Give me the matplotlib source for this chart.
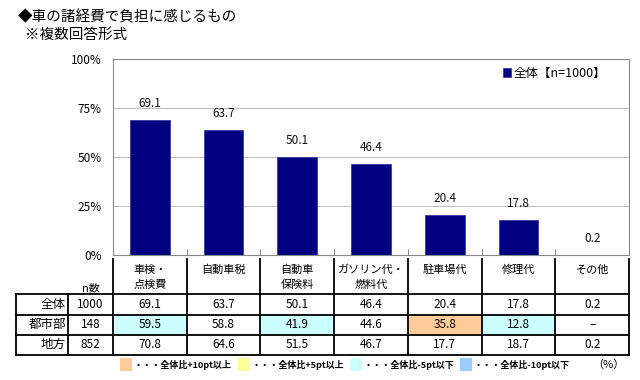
import matplotlib
matplotlib.use("Agg")
import matplotlib.pyplot as plt
from matplotlib.patches import Rectangle
from matplotlib.lines import Line2D

plt.rcParams['font.family'] = ['Noto Sans CJK JP', 'DejaVu Sans']

# ---- data ----
categories = ['車検・\n点検費', '自動車税', '自動車\n保険料', 'ガソリン代・\n燃料代', '駐車場代', '修理代', 'その他']
total = [69.1, 63.7, 50.1, 46.4, 20.4, 17.8, 0.2]
urban = [59.5, 58.8, 41.9, 44.6, 35.8, 12.8, None]
rural = [70.8, 64.6, 51.5, 46.7, 17.7, 18.7, 0.2]
groups = ['全体', '都市部', '地方']
n_counts = [1000, 148, 852]
yticks = [0, 25, 50, 75, 100]
legend_label = '全体【n=1000】'
key_labels = ['・・・全体比+10pt以上', '・・・全体比+5pt以上', '・・・全体比-5pt以下', '・・・全体比-10pt以下']
key_colors = ['#FFCC99', '#FFFF99', '#CCFFFF', '#99CCFF']

NAVY = '#000080'
W, H = 640, 380
fig = plt.figure(figsize=(6.4, 3.8), dpi=100)

# plot area in pixels
L, R, T, B = 113, 629, 59, 255
ax = fig.add_axes([L / W, (H - B) / H, (R - L) / W, (B - T) / H])
x = list(range(len(categories)))
bars = ax.bar(x, total, width=0.54, color=NAVY, edgecolor='#3a3aa0', linewidth=0.6, zorder=3)
for xi, v in zip(x, total):
    ax.annotate(f'{v:.1f}', (xi, v), xytext=(0, 7), textcoords='offset points',
                ha='center', va='bottom', fontsize=8.5, color='#111111')
ax.set_xlim(-0.5, len(categories) - 0.5)
ax.set_ylim(0, 100)
ax.set_yticks(yticks)
ax.set_yticklabels([f'{t}%' for t in yticks], fontsize=8.5)
ax.tick_params(axis='y', length=0, pad=8)
ax.set_xticks([i - 0.5 for i in range(1, len(categories))])
ax.set_xticklabels([])
ax.tick_params(axis='x', direction='in', length=4, color='#888888')
ax.grid(axis='y', color='#b0b0b0', linewidth=0.6, zorder=0)
for s in ax.spines.values():
    s.set_color('#888888')
    s.set_linewidth(0.8)
ax.legend([bars], [legend_label], loc='upper right', bbox_to_anchor=(0.965, 0.985),
          frameon=False, fontsize=9, handlelength=0.65, handleheight=0.65,
          handletextpad=0.2, borderaxespad=0)

# titles
fig.text(18 / W, 1 - 17 / H, '◆車の諸経費で負担に感じるもの', fontsize=10.5, va='center', ha='left')
fig.text(25 / W, 1 - 35 / H, '※複数回答形式', fontsize=10.5, va='center', ha='left')

# ---- table overlay (pixel coordinates) ----
tax = fig.add_axes([0, 0, 1, 1])
tax.set_xlim(0, W)
tax.set_ylim(H, 0)
tax.axis('off')

ncol = len(categories)
cw = (R - L) / ncol
col_edges = [L + k * cw for k in range(ncol + 1)]
col_centers = [L + (k + 0.5) * cw for k in range(ncol)]
row_edges = [294, 314.5, 334.5, 355]
row_centers = [(row_edges[i] + row_edges[i + 1]) / 2 for i in range(3)]
TL = 16      # table left
NL = 68      # n column left
lw = 1.3


def diff_color(v, base):
    if v is None:
        return None
    d = v - base
    if d >= 10:
        return key_colors[0]
    if d >= 5:
        return key_colors[1]
    if d <= -10:
        return key_colors[3]
    if d <= -5:
        return key_colors[2]
    return None


rows = [total, urban, rural]
for r, vals in enumerate(rows):
    for c, v in enumerate(vals):
        col = diff_color(v, total[c]) if r > 0 else None
        if col:
            tax.add_patch(Rectangle((col_edges[c], row_edges[r]), cw, row_edges[r + 1] - row_edges[r],
                                    facecolor=col, edgecolor='none', zorder=1))
        txt = '–' if v is None else f'{v:.1f}'
        tax.text(col_centers[c], row_centers[r], txt, ha='center', va='center', fontsize=8.5)
    tax.text(NL - 2, row_centers[r], groups[r], ha='right', va='center', fontsize=9)
    tax.text((NL + L) / 2, row_centers[r], str(n_counts[r]), ha='center', va='center', fontsize=8.5)

# header
for c, name in enumerate(categories):
    for k, line in enumerate(name.split('\n')):
        tax.text(col_centers[c], 270 + 15 * k, line, ha='center', va='center', fontsize=8)
tax.text((NL + L) / 2, 288, 'n数', ha='center', va='center', fontsize=8)

# lines
for yy in row_edges:
    tax.add_line(Line2D([TL, R], [yy, yy], color='black', lw=lw, zorder=2))
for xx in [TL, NL]:
    tax.add_line(Line2D([xx, xx], [row_edges[0], row_edges[-1]], color='black', lw=lw, zorder=2))
for xx in col_edges:
    tax.add_line(Line2D([xx, xx], [259, row_edges[-1]], color='black', lw=lw, zorder=2))

# color key
key_x = [120, 238, 350, 460]
for kx, lab, colr in zip(key_x, key_labels, key_colors):
    tax.add_patch(Rectangle((kx, 358), 12, 13, facecolor=colr, edgecolor='none'))
    tax.text(kx + 14, 365, lab, ha='left', va='center', fontsize=6.5, fontweight='bold')
tax.text(608, 365, '（%）', ha='center', va='center', fontsize=8)

fig.savefig('out.png', dpi=100)
